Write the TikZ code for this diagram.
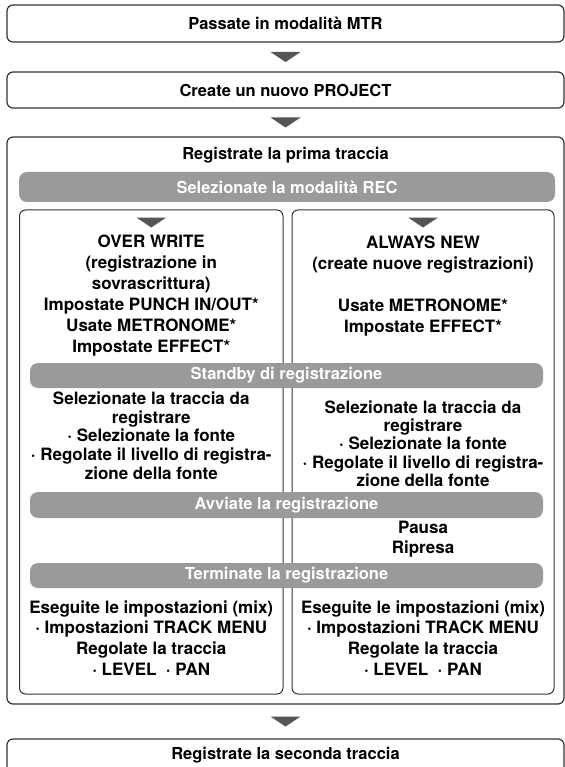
\documentclass[tikz,border=0pt]{standalone}
\usepackage{fontspec}
\setmainfont{TeX Gyre Heros}
\usetikzlibrary{calc}

\definecolor{linegray}{HTML}{333333}
\definecolor{bargray}{HTML}{9A9A9A}
\definecolor{trigray}{HTML}{555555}

% small down-pointing marker between steps
\newcommand{\downtri}[1]{\fill[trigray] ($#1+(-15,-5)$) -- ++(30,0) -- ++(-15,10) -- cycle;}

\begin{document}
\begin{tikzpicture}[
    x=1pt, y=-1pt,
    stepbox/.style={draw=linegray, line width=1.2pt, rounded corners=6pt, minimum width=557pt, inner sep=0pt,
        font=\bfseries\fontsize{16.5}{21}\selectfont},
    modebox/.style={draw=linegray, line width=1pt, rounded corners=6pt, inner sep=0pt},
    barbox/.style={fill=bargray, rounded corners=8pt, text=white, inner sep=0pt,
        font=\bfseries\fontsize{16.5}{21}\selectfont},
    steptext/.style={align=center, inner sep=0pt, font=\bfseries\fontsize{17}{21}\selectfont}
]
\useasboundingbox (0,0) rectangle (564,767);

\node[stepbox, minimum height=37pt] (mtr) at (285.5,23.5) {Passate in modalità MTR};
\node[stepbox, minimum height=36pt] (proj) at (285.5,90) {Create un nuovo PROJECT};
\node[stepbox, minimum height=567pt] (prima) at (285.5,420.5) {};
\node[stepbox, minimum height=40pt] (seconda) at (285.5,759) {};
\node[steptext, font=\bfseries\fontsize{16.5}{21}\selectfont] (secondatitle) at (285.5,755) {Registrate la seconda traccia};

\node[steptext, font=\bfseries\fontsize{16.5}{21}\selectfont] (primatitle) at (285.5,155) {Registrate la prima traccia};
\node[barbox, minimum width=536pt, minimum height=30pt] (rec) at (287,187) {Selezionate la modalità REC};

% the two recording modes
\node[modebox, minimum width=263.5pt, minimum height=484pt] (ow) at (151.25,452) {};
\node[modebox, minimum width=262pt, minimum height=484pt] (an) at (423,452) {};

\node[steptext] (owtext) at (151.25,296) {OVER WRITE\\(registrazione in\\sovrascrittura)\\Impostate PUNCH IN/OUT*\\Usate METRONOME*\\Impostate EFFECT*};
\node[steptext] (antext) at (423,286) {ALWAYS NEW\\(create nuove registrazioni)\\[21pt]Usate METRONOME*\\Impostate EFFECT*};

\node[barbox, minimum width=513pt, minimum height=25pt] (stby) at (286.5,375.5) {Standby di registrazione};
\node[steptext, font=\bfseries\fontsize{17}{18.7}\selectfont] (owstby) at (151.25,435.5) {Selezionate la traccia da\\registrare\\· Selezionate la fonte\\· Regolate il livello di registra-\\zione della fonte};
\node[steptext, font=\bfseries\fontsize{17}{18.3}\selectfont] (anstby) at (423,443.5) {Selezionate la traccia da\\registrare\\· Selezionate la fonte\\· Regolate il livello di registra-\\zione della fonte};

\node[barbox, minimum width=513pt, minimum height=26pt] (avv) at (286.5,505) {Avviate la registrazione};
\node[steptext, font=\bfseries\fontsize{17}{20}\selectfont] (pausa) at (423,539) {Pausa\\Ripresa};

\node[barbox, minimum width=513pt, minimum height=25pt] (term) at (286.5,575.5) {Terminate la registrazione};
\node[steptext, font=\bfseries\fontsize{17}{20.7}\selectfont] (owmix) at (151.25,638) {Eseguite le impostazioni (mix)\\· Impostazioni TRACK MENU\\Regolate la traccia\\· LEVEL \ · PAN};
\node[steptext, font=\bfseries\fontsize{17}{20.7}\selectfont] (anmix) at (423,638) {Eseguite le impostazioni (mix)\\· Impostazioni TRACK MENU\\Regolate la traccia\\· LEVEL \ · PAN};

\downtri{($(mtr.south)!0.5!(proj.north)$)}
\downtri{($(proj.south)!0.5!(prima.north)$)}
\downtri{($(ow.north)+(0,13)$)}
\downtri{($(an.north)+(0,13)$)}
\downtri{($(prima.south)!0.5!(seconda.north)$)}
\end{tikzpicture}
\end{document}
